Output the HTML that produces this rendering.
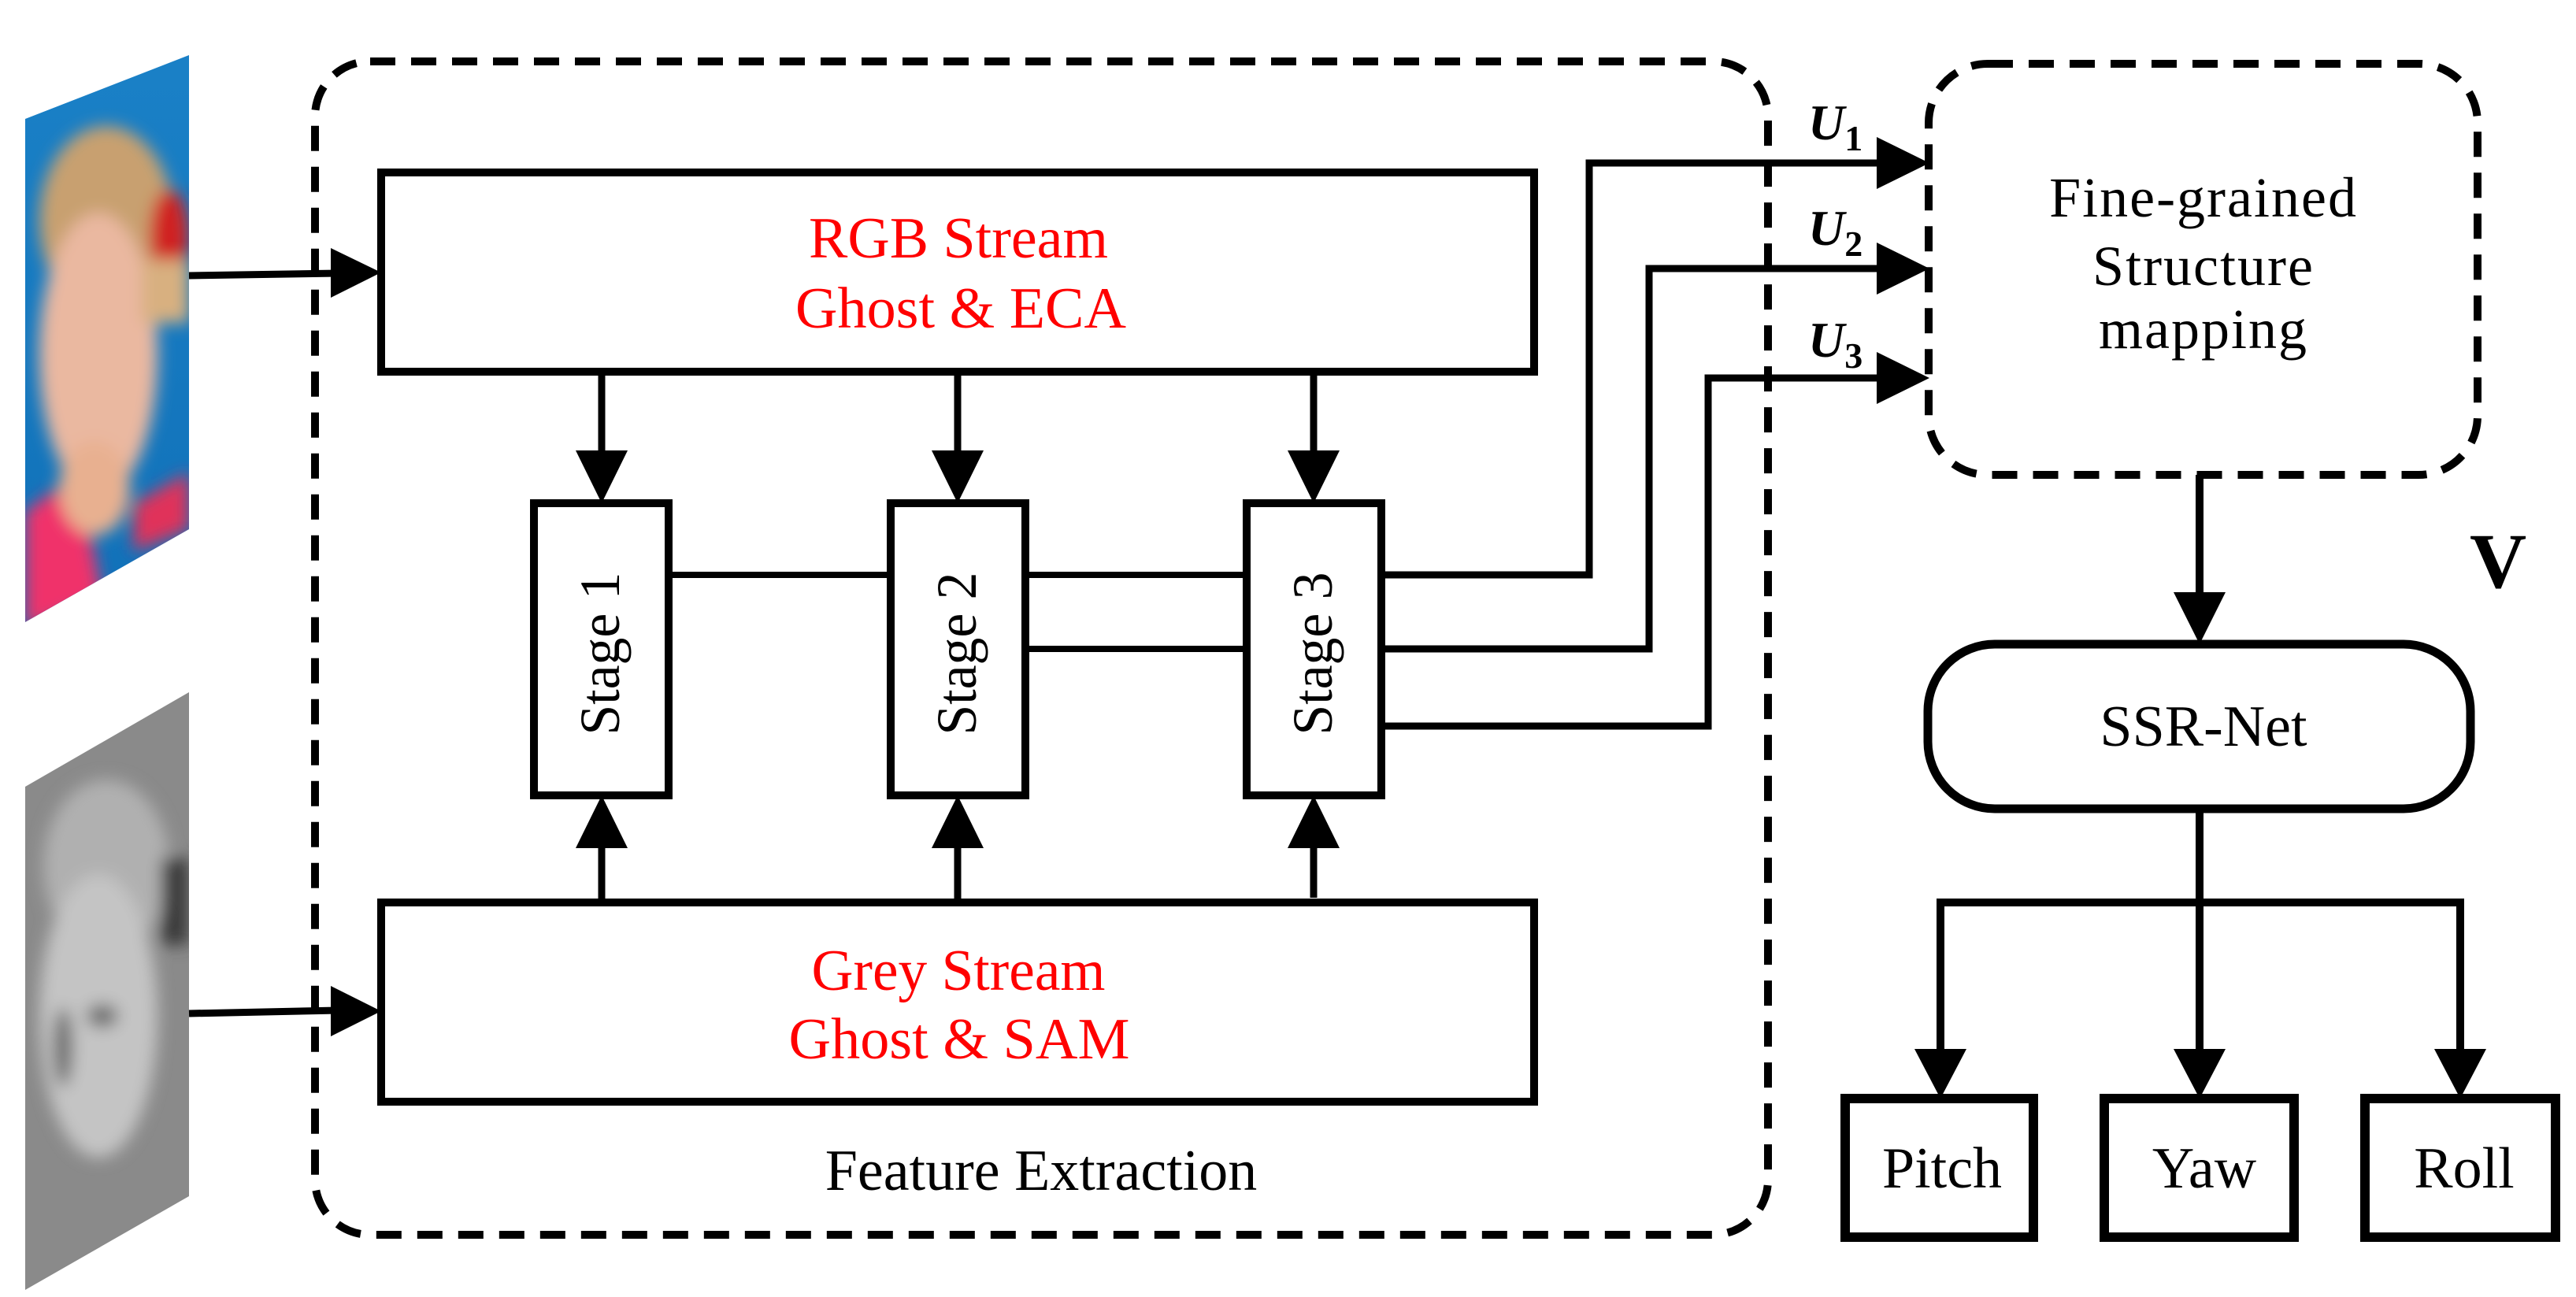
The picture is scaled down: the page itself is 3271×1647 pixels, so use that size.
<!DOCTYPE html>
<html><head><meta charset="utf-8"><style>
html,body{margin:0;padding:0;background:#fff;}
svg{display:block;position:absolute;left:0;top:0;}
svg text, svg tspan{font-family:"Liberation Serif","DejaVu Serif",serif !important;}
.l{position:absolute;font-family:"Liberation Serif",serif;color:#000;line-height:1;text-align:center;white-space:nowrap;width:800px;}
</style></head><body>
<div style="position:relative;width:3271px;height:1647px;overflow:hidden;">
<svg width="3271" height="1647" viewBox="0 0 3271 1647" xmlns="http://www.w3.org/2000/svg">
<defs>
<linearGradient id="bg1" x1="0" y1="0" x2="0" y2="1"><stop offset="0" stop-color="#1b82c8"/><stop offset="1" stop-color="#1070b8"/></linearGradient>
<clipPath id="c1"><polygon points="32,151 240,70 240,672 32,790"/></clipPath>
<clipPath id="c2"><polygon points="32,999 240,879 240,1519 32,1638"/></clipPath>
<filter id="bl"><feGaussianBlur stdDeviation="10"/></filter>
</defs>
<g clip-path="url(#c1)">
<rect x="0" y="0" width="260" height="820" fill="url(#bg1)"/>
<g filter="url(#bl)">
<ellipse cx="135" cy="280" rx="85" ry="120" fill="#c8a070"/>
<ellipse cx="125" cy="450" rx="75" ry="180" fill="#eab8a0"/>
<ellipse cx="215" cy="300" rx="25" ry="60" fill="#d02020"/>
<rect x="180" y="330" width="60" height="80" fill="#d8b080"/>
<polygon points="32,650 100,600 130,760 32,800" fill="#f0306a"/>
<polygon points="170,640 240,600 240,672 170,700" fill="#e0305a"/>
<ellipse cx="120" cy="620" rx="45" ry="60" fill="#e8b090"/>
</g>
</g>
<g clip-path="url(#c2)">
<rect x="0" y="860" width="260" height="790" fill="#8a8a8a"/>
<g filter="url(#bl)">
<ellipse cx="135" cy="1100" rx="80" ry="110" fill="#b0b0b0"/>
<ellipse cx="125" cy="1290" rx="75" ry="180" fill="#c4c4c4"/>
<rect x="205" y="1090" width="35" height="110" fill="#3a3a3a"/>
<ellipse cx="130" cy="1290" rx="20" ry="15" fill="#707070"/>
<ellipse cx="80" cy="1330" rx="12" ry="50" fill="#6a6a6a"/>
</g>
</g>

<g stroke="#000" fill="none">
<rect x="400" y="78" width="1845" height="1490" rx="70" stroke-width="10" stroke-dasharray="32,20"/>
<rect x="2449" y="81" width="697" height="522" rx="75" stroke-width="10" stroke-dasharray="32,20"/>
<rect x="484" y="219" width="1464" height="253" stroke-width="10"/>
<rect x="484" y="1146" width="1464" height="253" stroke-width="10"/>
<rect x="678" y="639" width="171" height="371" stroke-width="10"/>
<rect x="1131" y="639" width="171" height="371" stroke-width="10"/>
<rect x="1583" y="639" width="171" height="371" stroke-width="10"/>
<line x1="849" y1="730" x2="1131" y2="730" stroke-width="8"/>
<line x1="1302" y1="730" x2="1583" y2="730" stroke-width="8"/>
<line x1="1302" y1="824" x2="1583" y2="824" stroke-width="8"/>
<polyline points="1754,730 2018,730 2018,207 2390,207" stroke-width="9"/>
<polyline points="1754,824 2094,824 2094,341 2390,341" stroke-width="9"/>
<polyline points="1754,922 2169,922 2169,480 2390,480" stroke-width="9"/>
<line x1="764" y1="472" x2="764" y2="580" stroke-width="9"/>
<line x1="1216" y1="472" x2="1216" y2="580" stroke-width="9"/>
<line x1="1668" y1="472" x2="1668" y2="580" stroke-width="9"/>
<line x1="764" y1="1146" x2="764" y2="1070" stroke-width="9"/>
<line x1="1216" y1="1146" x2="1216" y2="1070" stroke-width="9"/>
<line x1="1668" y1="1140" x2="1668" y2="1070" stroke-width="9"/>
<line x1="240" y1="350" x2="430" y2="347" stroke-width="9"/>
<line x1="240" y1="1287" x2="430" y2="1283" stroke-width="9"/>
<line x1="2793" y1="603" x2="2793" y2="760" stroke-width="10"/>
<rect x="2448" y="818" width="689" height="209" rx="85" stroke-width="11"/>
<line x1="2793" y1="1027" x2="2793" y2="1340" stroke-width="10"/>
<polyline points="2464,1340 2464,1146 3124,1146 3124,1340" stroke-width="10"/>
<rect x="2343" y="1395" width="239" height="176" stroke-width="12"/>
<rect x="2672" y="1395" width="241" height="176" stroke-width="12"/>
<rect x="3003" y="1395" width="242" height="176" stroke-width="12"/>
</g>
<g fill="#000">
<polygon points="731,572 797,572 764,639"/>
<polygon points="1183,572 1249,572 1216,639"/>
<polygon points="1635,572 1701,572 1668,639"/>
<polygon points="731,1077 797,1077 764,1010"/>
<polygon points="1183,1077 1249,1077 1216,1010"/>
<polygon points="1635,1077 1701,1077 1668,1010"/>
<polygon points="420,315 484,346 420,378"/>
<polygon points="420,1252 484,1284 420,1316"/>
<polygon points="2383,174 2450,207 2383,240"/>
<polygon points="2383,308 2450,341 2383,374"/>
<polygon points="2383,447 2450,480 2383,513"/>
<polygon points="2760,752 2826,752 2793,818"/>
<polygon points="2431,1332 2497,1332 2464,1395"/>
<polygon points="2760,1332 2826,1332 2793,1395"/>
<polygon points="3091,1332 3157,1332 3124,1395"/>
</g>

<text x="1217" y="327" text-anchor="middle" fill="#ff0000" font-size="74" textLength="380" lengthAdjust="spacingAndGlyphs">RGB Stream</text>
<text x="1220" y="416" text-anchor="middle" fill="#ff0000" font-size="74" textLength="420" lengthAdjust="spacingAndGlyphs">Ghost &amp; ECA</text>
<text x="1217" y="1257" text-anchor="middle" fill="#ff0000" font-size="74" textLength="373" lengthAdjust="spacingAndGlyphs">Grey Stream</text>
<text x="1218" y="1344" text-anchor="middle" fill="#ff0000" font-size="74" textLength="433" lengthAdjust="spacingAndGlyphs">Ghost &amp; SAM</text>

<text transform="translate(786,830) rotate(-90)" text-anchor="middle" font-size="72" textLength="207" lengthAdjust="spacingAndGlyphs">Stage 1</text>
<text transform="translate(1239,830) rotate(-90)" text-anchor="middle" font-size="72" textLength="207" lengthAdjust="spacingAndGlyphs">Stage 2</text>
<text transform="translate(1691,830) rotate(-90)" text-anchor="middle" font-size="72" textLength="207" lengthAdjust="spacingAndGlyphs">Stage 3</text>

<text x="3136" y="746" font-size="100" font-weight="bold">V</text>
<text x="2296" y="177" font-style="italic" font-weight="bold" font-size="64">U<tspan font-style="normal" font-size="46" dy="14">1</tspan></text>
<text x="2296" y="311" font-style="italic" font-weight="bold" font-size="64">U<tspan font-style="normal" font-size="46" dy="14">2</tspan></text>
<text x="2296" y="453" font-style="italic" font-weight="bold" font-size="64">U<tspan font-style="normal" font-size="46" dy="14">3</tspan></text>
</svg>

<div class="l" style="left:922px;top:1450px;font-size:74px;">Feature Extraction</div>
<div class="l" style="left:2398px;top:215px;font-size:72px;letter-spacing:2px;">Fine-grained</div>
<div class="l" style="left:2398px;top:302px;font-size:72px;letter-spacing:2px;">Structure</div>
<div class="l" style="left:2398px;top:382px;font-size:72px;letter-spacing:2px;">mapping</div>
<div class="l" style="left:2398px;top:886px;font-size:74px;">SSR-Net</div>
<div class="l" style="left:2066px;top:1447px;font-size:74px;">Pitch</div>
<div class="l" style="left:2399px;top:1447px;font-size:74px;">Yaw</div>
<div class="l" style="left:2729px;top:1447px;font-size:74px;">Roll</div>
</div>
</body></html>
